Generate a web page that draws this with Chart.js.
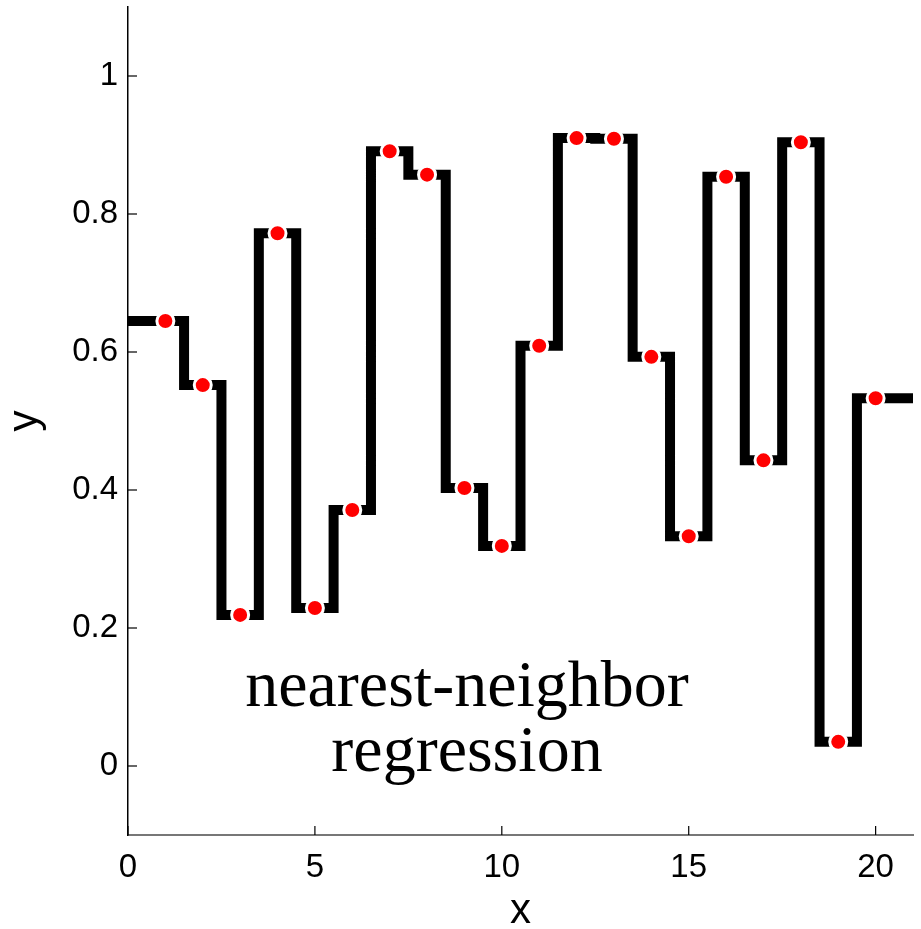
<!DOCTYPE html>
<html>
<head>
<meta charset="utf-8">
<script src="https://cdn.jsdelivr.net/npm/chart.js@4"></script>
<style>
  html, body { margin: 0; padding: 0; background: #fff; }
  #wrap { width: 921px; height: 929px; }
</style>
</head>
<body>
<div id="wrap"><canvas id="nnChart"></canvas></div>
<script>
// training points (x = 1..20)
const sampleX = [1, 2, 3, 4, 5, 6, 7, 8, 9, 10, 11, 12, 13, 14, 15, 16, 17, 18, 19, 20];
const sampleY = [0.645, 0.552, 0.219, 0.772, 0.229, 0.371, 0.891, 0.857, 0.403, 0.319,
                 0.609, 0.910, 0.909, 0.593, 0.333, 0.854, 0.443, 0.904, 0.035, 0.533];
const xTicks = [0, 5, 10, 15, 20];
const yTicks = [0, 0.2, 0.4, 0.6, 0.8, 1];

// nearest-neighbour fit: extend to the axis limits, steps at midpoints
const fitX = [0].concat(sampleX, [21]);
const fitY = [sampleY[0]].concat(sampleY, [sampleY[sampleY.length - 1]]);

const tickFont = { family: "'Liberation Sans', Arial, sans-serif", size: 33 };

// tick marks pointing into the plot, like the original
const innerTicks = {
    id: "innerTicks",
    afterDraw(chart) {
        const c = chart.ctx, a = chart.chartArea;
        c.save();
        c.strokeStyle = "#000";
        c.lineWidth = 1.2;
        chart.scales.x.ticks.forEach(t => {
            const px = chart.scales.x.getPixelForValue(t.value);
            c.beginPath(); c.moveTo(px, a.bottom); c.lineTo(px, a.bottom - 9); c.stroke();
        });
        chart.scales.y.ticks.forEach(t => {
            const py = chart.scales.y.getPixelForValue(t.value);
            c.beginPath(); c.moveTo(a.left, py); c.lineTo(a.left + 9, py); c.stroke();
        });
        c.restore();
    }
};

// the text label inside the plot
const caption = {
    id: "caption",
    afterDraw(chart) {
        const c = chart.ctx;
        c.save();
        c.fillStyle = "#000";
        c.font = "66px 'Liberation Serif', 'Times New Roman', serif";
        c.textAlign = "center";
        c.textBaseline = "alphabetic";
        c.fillText("nearest-neighbor", 467, 706);
        c.fillText("regression", 467, 771);
        c.restore();
    }
};

new Chart(document.getElementById("nnChart"), {
    type: "line",
    data: {
        datasets: [
            {
                label: "samples",
                type: "scatter",
                data: sampleX.map((x, i) => ({ x: x, y: sampleY[i] })),
                backgroundColor: "#ff0000",
                borderColor: "#ffffff",
                pointRadius: 8.5,
                pointBorderWidth: 3,
                order: 0
            },
            {
                label: "fit",
                data: fitX.map((x, i) => ({ x: x, y: fitY[i] })),
                stepped: "middle",
                borderColor: "#000000",
                borderWidth: 10,
                borderCapStyle: "butt",
                borderJoinStyle: "miter",
                pointRadius: 0,
                fill: false,
                order: 1
            }
        ]
    },
    options: {
        responsive: true,
        maintainAspectRatio: false,
        animation: false,
        layout: { autoPadding: false, padding: { top: 7, right: 8, left: 0, bottom: 0 } },
        plugins: {
            legend: { display: false },
            tooltip: { enabled: false }
        },
        scales: {
            x: {
                type: "linear",
                min: 0,
                max: 21,
                afterBuildTicks: s => { s.ticks = xTicks.map(v => ({ value: v })); },
                afterFit: s => { s.height = 94; s.paddingLeft = 0; s.paddingRight = 0; },
                grid: { display: false, drawTicks: false },
                border: { display: true, color: "#777", width: 2 },
                ticks: { color: "#000", font: tickFont, padding: 13, maxRotation: 0 },
                title: {
                    display: true,
                    text: "x",
                    color: "#000",
                    font: { family: "'Liberation Sans', Arial, sans-serif", size: 42 },
                    padding: { top: 0, bottom: -8 }
                }
            },
            y: {
                type: "linear",
                min: -0.1,
                max: 1.1,
                afterBuildTicks: s => { s.ticks = yTicks.map(v => ({ value: v })); },
                afterFit: s => { s.width = 128; s.paddingTop = 0; s.paddingBottom = 0; },
                grid: { display: false, drawTicks: false },
                border: { display: true, color: "#000", width: 1.5 },
                ticks: {
                    color: "#000",
                    font: tickFont,
                    padding: 10,
                    callback: v => String(Math.round(v * 10) / 10)
                },
                title: {
                    display: true,
                    text: "y",
                    color: "#000",
                    font: { family: "'Liberation Sans', Arial, sans-serif", size: 42 },
                    padding: { top: 0, bottom: 8 }
                }
            }
        }
    },
    plugins: [innerTicks, caption]
});
</script>
</body>
</html>
